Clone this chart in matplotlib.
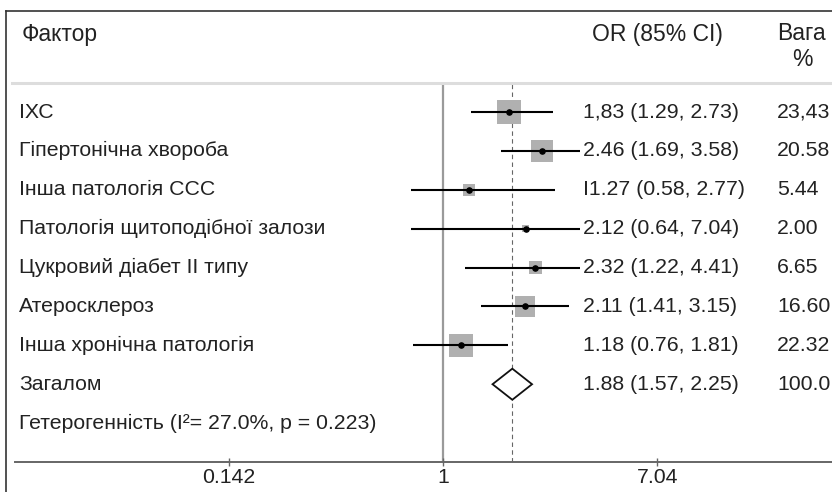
import numpy as np
import matplotlib
matplotlib.use('Agg')
import matplotlib.pyplot as plt
import matplotlib.transforms as mtransforms
from matplotlib.lines import Line2D
from matplotlib.patches import Polygon

plt.rcParams['font.family'] = ['Liberation Sans', 'DejaVu Sans']

######## DATA ############
factors = ['ІХС', 'Гіпертонічна хвороба', 'Інша патологія ССС',
           'Патологія щитоподібної залози', 'Цукровий діабет ІІ типу',
           'Атеросклероз', 'Інша хронічна патологія']
odds = [1.83, 2.46, 1.27, 2.12, 2.32, 2.11, 1.18]
ci_low = [1.29, 1.69, 0.58, 0.64, 1.22, 1.41, 0.76]
ci_high = [2.73, 3.58, 2.77, 7.04, 4.41, 3.15, 1.81]
or_labels = ['1,83 (1.29, 2.73)', '2.46 (1.69, 3.58)', 'I1.27 (0.58, 2.77)',
             '2.12 (0.64, 7.04)', '2.32 (1.22, 4.41)', '2.11 (1.41, 3.15)',
             '1.18 (0.76, 1.81)']
weights = [23.43, 20.58, 5.44, 2.00, 6.65, 16.60, 22.32]
weight_labels = ['23,43', '20.58', '5.44', '2.00', '6.65', '16.60', '22.32']

overall_label = 'Загалом'
overall_or = 1.88
overall_low = 1.57
overall_high = 2.25
overall_text = '1.88 (1.57, 2.25)'
overall_weight = '100.0'
het_text = 'Гетерогенність (I²= 27.0%, p = 0.223)'

tick_vals = [0.142, 1, 7.04]
tick_labels = ['0.142', '1', '7.04']
##############################

W, H = 832, 492
fig = plt.figure(figsize=(W / 100, H / 100), dpi=100)

# plot area: pixel box 15..832 x 84..462
ax = fig.add_axes([15 / W, (H - 462) / H, 1 - 15 / W, (462 - 84) / H])
ax.set_xscale('log')
pxPerLn = 109.8
ax.set_xlim(np.exp((15 - 443) / pxPerLn), np.exp((832 - 443) / pxPerLn))
ax.set_ylim(9.0, -0.72)

txtCol = '#222222'
fs = 15.3

# reference lines
ax.axvline(1, color='#9a9a9a', lw=1.6, zorder=1)
ax.axvline(overall_or, color='#666666', lw=0.8, ls=(0, (4, 3)), zorder=1)

rows = np.arange(len(factors))
clipLo, clipHi = 0.745, 3.48
for i in rows:
    lo = max(ci_low[i], clipLo)
    hi = min(ci_high[i], clipHi)
    ax.plot([lo, hi], [i, i], color='black', lw=1.5, zorder=3, solid_capstyle='butt')

# boxes sized by weight (area ~ weight)
ax.scatter(odds, rows, marker='s', s=12.9 * np.array(weights), color='#b0b0b0',
           edgecolor='none', zorder=2)
ax.scatter(odds, rows, marker='o', s=14, color='black', zorder=4)

# overall diamond
yOv = len(factors)
ax.add_patch(Polygon([[overall_low, yOv], [overall_or, yOv - 0.4],
                      [overall_high, yOv], [overall_or, yOv + 0.4]],
                     closed=True, facecolor='white', edgecolor='#111111', lw=1.3, zorder=4))

# axis
for s in ['top', 'left', 'right']:
    ax.spines[s].set_visible(False)
ax.spines['bottom'].set_color('#666666')
ax.spines['bottom'].set_linewidth(1.4)
ax.set_yticks([])
ax.set_xticks(tick_vals)
ax.set_xticklabels(tick_labels)
ax.xaxis.set_minor_locator(matplotlib.ticker.NullLocator())
ax.tick_params(axis='x', direction='inout', length=6, width=1, color='#666666',
               labelsize=fs, labelcolor=txtCol, pad=1)
ax.set_facecolor('none')

# text columns
tr = mtransforms.blended_transform_factory(fig.transFigure, ax.transData)
for i in rows:
    ax.text(19 / W, i, factors[i], transform=tr, ha='left', va='center',
            fontsize=fs, color=txtCol, clip_on=False)
    ax.text(583 / W, i, or_labels[i], transform=tr, ha='left', va='center',
            fontsize=fs, color=txtCol, clip_on=False)
    ax.text(777 / W, i, weight_labels[i], transform=tr, ha='left', va='center',
            fontsize=fs, color=txtCol, clip_on=False)
ax.text(19 / W, yOv, overall_label, transform=tr, ha='left', va='center',
        fontsize=fs, color=txtCol, clip_on=False)
ax.text(583 / W, yOv, overall_text, transform=tr, ha='left', va='center',
        fontsize=fs, color=txtCol, clip_on=False)
ax.text(777 / W, yOv, overall_weight, transform=tr, ha='left', va='center',
        fontsize=fs, color=txtCol, clip_on=False)
ax.text(19 / W, yOv + 1, het_text, transform=tr, ha='left', va='center',
        fontsize=fs, color=txtCol, clip_on=False)

# header
hfs = 16.5
fig.text(22 / W, 1 - 34 / H, 'Фактор', ha='left', va='center', fontsize=hfs, color=txtCol)
fig.text(592 / W, 1 - 34 / H, 'OR (85% CI)', ha='left', va='center', fontsize=hfs, color=txtCol)
fig.text(777 / W, 1 - 34 / H, 'Вага', ha='left', va='center', fontsize=hfs, color=txtCol)
fig.text(802 / W, 1 - 60 / H, '%', ha='center', va='center', fontsize=hfs, color=txtCol)

# frame and header separator
fig.add_artist(Line2D([6 / W, 6 / W], [0, 1 - 11 / H], color='#333333', lw=1.2))
fig.add_artist(Line2D([6 / W, 1], [1 - 11 / H, 1 - 11 / H], color='#333333', lw=1.2))
fig.add_artist(Line2D([12 / W, 1], [1 - 83 / H, 1 - 83 / H], color='#dddddd', lw=2.2))

plt.savefig('out.png', dpi=100)
